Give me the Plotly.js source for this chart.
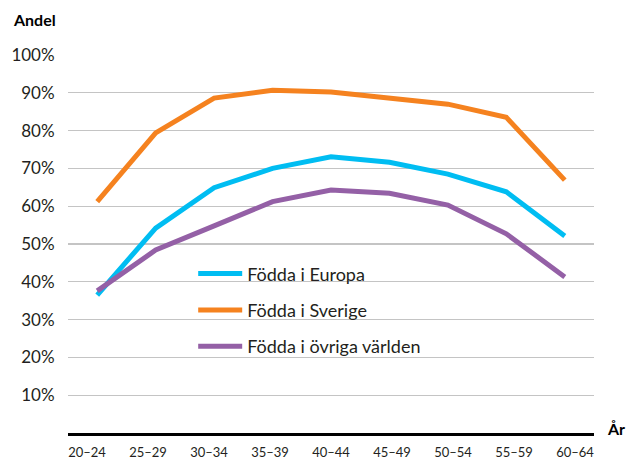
<!DOCTYPE html>
<html>
<head>
<meta charset="utf-8">
<script src="https://cdn.plot.ly/plotly-3.0.1.min.js"></script>
<style>html,body{margin:0;padding:0;background:#fff;}#chart{width:627px;height:459px;}</style>
</head>
<body>
<div id="chart"></div>
<script>
const ages = ["20–24","25–29","30–34","35–39","40–44","45–49","50–54","55–59","60–64"];
const europa = [36.5, 54.2, 64.9, 70.0, 73.1, 71.6, 68.5, 63.8, 52.1];
const sverige = [61.2, 79.4, 88.6, 90.7, 90.2, 88.6, 87.0, 83.5, 66.9];
const ovriga = [37.6, 48.4, 54.8, 61.2, 64.3, 63.4, 60.3, 52.7, 41.3];
const seriesNames = ["Födda i Europa", "Födda i Sverige", "Födda i övriga världen"];
const seriesColors = ["#00BDF2", "#F5821F", "#9460A6"];
const yTickVals = [10,20,30,40,50,60,70,80,90,100];
const yTickText = yTickVals.map(v => v + "%");

const FONT = "Lato, 'Open Sans', sans-serif";
const txt = "#231f20";

const seriesData = [europa, sverige, ovriga];
const traces = seriesData.map((ys, i) => ({
  type: "scatter", mode: "lines",
  x: ages, y: ys, name: seriesNames[i],
  legendgroup: "g" + i,
  line: {color: seriesColors[i], width: 5, shape: "linear"},
  hoverinfo: "skip"
}));
// hidden trace to carry the category tick labels axis
traces.push({type: "scatter", mode: "none", x: ages, y: europa, xaxis: "x2", yaxis: "y",
  showlegend: false, hoverinfo: "skip"});

const layout = {
  width: 627, height: 459,
  margin: {l: 68, r: 33, t: 55, b: 26, pad: 0},
  paper_bgcolor: "#fff", plot_bgcolor: "#fff",
  font: {family: FONT, color: txt},
  showlegend: true,
  legend: {x: 0.238, y: 0.47, xanchor: "left", yanchor: "top",
    bgcolor: "rgba(0,0,0,0)", font: {size: 18, color: txt, family: FONT},
    tracegroupgap: 10, itemwidth: 44, traceorder: "grouped"},
  xaxis: {type: "category", range: [-0.5, 8.5], showticklabels: false, ticks: "",
    showgrid: false, zeroline: false, showline: true, linecolor: "#000", linewidth: 3,
    fixedrange: true},
  xaxis2: {type: "category", overlaying: "x", anchor: "y", side: "bottom",
    range: [-0.311, 8.311], showgrid: false, zeroline: false, showline: false,
    ticks: "outside", ticklen: 7, tickcolor: "rgba(0,0,0,0)",
    tickfont: {size: 13, color: txt, family: FONT}, fixedrange: true},
  yaxis: {range: [0, 100], tickmode: "array", tickvals: yTickVals, ticktext: yTickText,
    showgrid: true, gridcolor: "#c4c4c4", gridwidth: 1.3, zeroline: false,
    ticks: "outside", ticklen: 9, tickcolor: "rgba(0,0,0,0)",
    tickfont: {size: 17, color: txt, family: FONT}, fixedrange: true},
  annotations: [
    {text: "<b>Andel</b>", xref: "paper", yref: "paper", x: -0.108, y: 1.095,
      xanchor: "left", yanchor: "middle", showarrow: false,
      font: {size: 16, color: "#000", family: FONT}},
    {text: "<b>År</b>", xref: "paper", yref: "paper", x: 1.02, y: 0.013,
      xanchor: "left", yanchor: "middle", showarrow: false,
      font: {size: 16, color: "#000", family: FONT}}
  ]
};
Plotly.newPlot("chart", traces, layout, {staticPlot: true, displayModeBar: false});
</script>
</body>
</html>
